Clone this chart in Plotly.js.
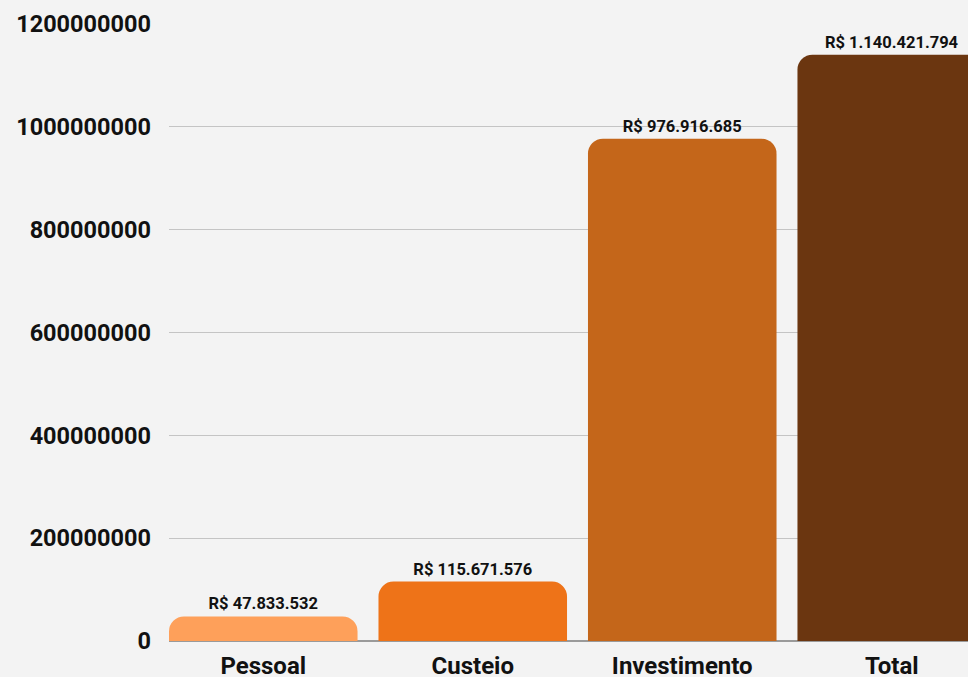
<!DOCTYPE html>
<html>
<head>
<meta charset="utf-8">
<script src="https://cdn.plot.ly/plotly-3.0.1.min.js"></script>
<style>html,body{margin:0;padding:0;background:#f3f3f3;}</style>
</head>
<body>
<div id="chart" style="width:968px;height:677px;"></div>
<script>
const categories = ["Pessoal", "Custeio", "Investimento", "Total"];
const values = [47833532, 115671576, 976916685, 1140421794];
const labels = ["R$ 47.833.532", "R$ 115.671.576", "R$ 976.916.685", "R$ 1.140.421.794"];
const colors = ["#FEA05A", "#EE7318", "#C4661A", "#6B3610"];
const yTicks = [0, 200000000, 400000000, 600000000, 800000000, 1000000000, 1200000000];
const yTickText = ["0", "200000000", "400000000", "600000000", "800000000", "1000000000", "1200000000"];

const trace = {
  type: "bar",
  x: categories,
  y: values,
  text: labels,
  textposition: "outside",
  cliponaxis: false,
  textfont: {family: "Roboto", size: 16.5, color: "#111", weight: 700},
  marker: {color: colors},
  hoverinfo: "none"
};

const layout = {
  width: 968,
  height: 677,
  margin: {l: 169, r: 0, t: 24, b: 36, pad: 0},
  paper_bgcolor: "#f3f3f3",
  plot_bgcolor: "#f3f3f3",
  bargap: 0.1,
  barcornerradius: 15,
  showlegend: false,
  font: {family: "Roboto", color: "#111"},
  xaxis: {
    type: "category",
    range: [-0.45, 3.364],
    showgrid: false,
    showline: false,
    zeroline: false,
    ticks: "",
    ticklabelstandoff: 8,
    tickfont: {family: "Roboto", size: 24, color: "#111", weight: 700}
  },
  yaxis: {
    range: [0, 1200000000],
    tickvals: yTicks,
    ticktext: yTickText,
    showgrid: true,
    gridcolor: "#c4c4c4",
    gridwidth: 1,
    zeroline: true,
    zerolinecolor: "#9a9a9a",
    zerolinewidth: 1.5,
    showline: false,
    ticks: "",
    ticklabelstandoff: 17,
    tickfont: {family: "Roboto", size: 23.5, color: "#111", weight: 700}
  }
};

Plotly.newPlot("chart", [trace], layout, {displayModeBar: false, staticPlot: true});
</script>
</body>
</html>
